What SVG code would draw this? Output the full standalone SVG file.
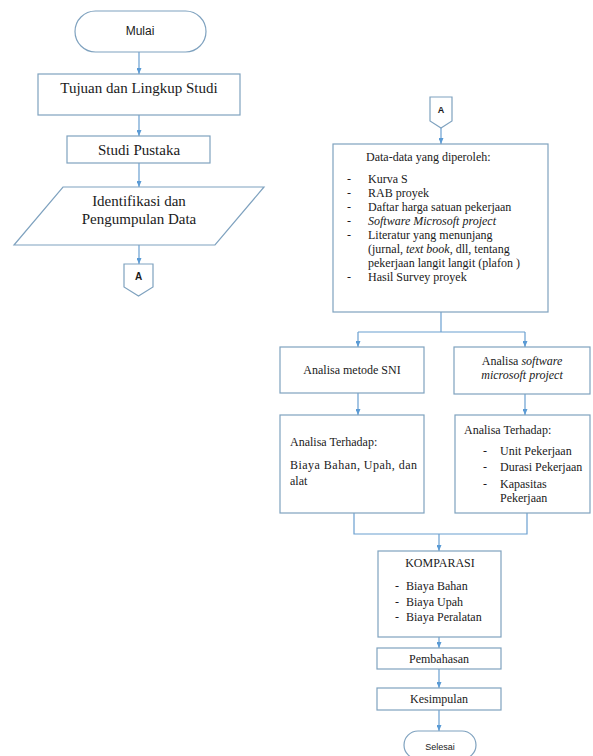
<svg xmlns="http://www.w3.org/2000/svg" width="593" height="756" viewBox="0 0 593 756">
<defs>
<marker id="ah" markerWidth="6" markerHeight="5" refX="6" refY="2.5" orient="auto" markerUnits="userSpaceOnUse">
<path d="M0,0 L6,2.5 L0,5 z" fill="#5b9bd5"/>
</marker>
</defs>
<style>
.box{fill:#fff;stroke:#7fa2bf;stroke-width:1.2}
.ln{fill:none;stroke:#6a9fd0;stroke-width:1.2}
.arr{marker-end:url(#ah)}
.sv{font-family:"Liberation Serif",serif;fill:#1a1a1a}
.ss{font-family:"Liberation Sans",sans-serif;fill:#1a1a1a}
.c{text-anchor:middle}
.i{font-style:italic}
</style>
<rect width="593" height="756" fill="#fff"/>

<g id="connectors">
<line class="ln arr" x1="139" y1="52" x2="139" y2="74"/>
<line class="ln arr" x1="139" y1="115" x2="139" y2="136"/>
<line class="ln arr" x1="139" y1="163" x2="139" y2="187"/>
<line class="ln arr" x1="139" y1="245" x2="139" y2="264"/>
<line class="ln arr" x1="441" y1="128" x2="441" y2="144"/>
<polyline class="ln" points="441,312 441,332"/>
<polyline class="ln" points="358,332 525,332"/>
<line class="ln arr" x1="358" y1="332" x2="358" y2="347"/>
<line class="ln arr" x1="525" y1="332" x2="525" y2="347"/>
<line class="ln arr" x1="358" y1="393" x2="358" y2="415"/>
<line class="ln arr" x1="525" y1="394" x2="525" y2="415"/>
<polyline class="ln" points="354,513 354,534 527,534 527,513"/>
<line class="ln arr" x1="439" y1="534" x2="439" y2="551"/>
<line class="ln arr" x1="439" y1="637" x2="439" y2="648"/>
<line class="ln arr" x1="439" y1="669" x2="439" y2="688"/>
<line class="ln arr" x1="439" y1="710" x2="439" y2="731"/>
</g>

<g id="mulai">
<rect class="box" x="75" y="11" width="131" height="41" rx="20.5"/>
<text class="ss c" x="140" y="35" font-size="12">Mulai</text>
</g>
<g id="tujuan">
<rect class="box" x="38" y="74" width="202" height="41"/>
<text class="sv c" x="139" y="93" font-size="15">Tujuan dan Lingkup Studi</text>
</g>
<g id="studi">
<rect class="box" x="67" y="136" width="143" height="27"/>
<text class="sv c" x="139" y="155" font-size="15">Studi Pustaka</text>
</g>
<g id="identifikasi">
<polygon class="box" points="63,187 264,187 215,245 14,245"/>
<text class="sv c" x="139" y="206" font-size="15">Identifikasi dan</text>
<text class="sv c" x="139" y="224" font-size="15">Pengumpulan Data</text>
</g>
<g id="a1">
<polygon class="box" points="124,264 153,264 153,287 138.5,296 124,287"/>
<text class="ss c" x="138.5" y="280" font-size="10" font-weight="bold">A</text>
</g>

<g id="a2">
<polygon class="box" points="430,97 452,97 452,121 441,128 430,121"/>
<text class="ss c" x="441" y="113" font-size="9" font-weight="bold">A</text>
</g>
<g id="data">
<rect class="box" x="333" y="144" width="215" height="168"/>
<text class="sv" x="366" y="161" font-size="12">Data-data yang diperoleh:</text>
<g class="sv" font-size="12">
<text x="347" y="183">-</text><text x="368" y="183">Kurva S</text>
<text x="347" y="197">-</text><text x="368" y="197">RAB proyek</text>
<text x="347" y="211">-</text><text x="368" y="211">Daftar harga satuan pekerjaan</text>
<text x="347" y="225">-</text><text x="368" y="225" class="i">Software Microsoft project</text>
<text x="347" y="239">-</text><text x="368" y="239">Literatur yang menunjang</text>
<text x="368" y="253">(jurnal, <tspan class="i">text book</tspan>, dll, tentang</text>
<text x="368" y="267">pekerjaan langit langit (plafon )</text>
<text x="347" y="281">-</text><text x="368" y="281">Hasil Survey proyek</text>
</g>
</g>
<g id="sni">
<rect class="box" x="280" y="347" width="144" height="46"/>
<text class="sv c" x="352" y="374" font-size="12">Analisa metode SNI</text>
</g>
<g id="software">
<rect class="box" x="454" y="347" width="136" height="47"/>
<text class="sv c" x="522" y="365" font-size="12">Analisa <tspan class="i">software</tspan></text>
<text class="sv c i" x="522" y="379" font-size="12">microsoft project</text>
</g>
<g id="terhadap1">
<rect class="box" x="280" y="415" width="144" height="98"/>
<text class="sv" x="290" y="446" font-size="12">Analisa Terhadap:</text>
<text class="sv" x="290" y="469" font-size="12" textLength="127" lengthAdjust="spacing">Biaya Bahan, Upah, dan</text>
<text class="sv" x="290" y="485" font-size="12">alat</text>
</g>
<g id="terhadap2">
<rect class="box" x="455" y="415" width="135" height="98"/>
<text class="sv" x="464" y="434" font-size="12">Analisa Terhadap:</text>
<g class="sv" font-size="12">
<text x="483" y="455">-</text><text x="500" y="455">Unit Pekerjaan</text>
<text x="483" y="471">-</text><text x="500" y="471">Durasi Pekerjaan</text>
<text x="483" y="488">-</text><text x="500" y="488">Kapasitas</text>
<text x="500" y="502">Pekerjaan</text>
</g>
</g>
<g id="komparasi">
<rect class="box" x="378" y="551" width="123" height="86"/>
<text class="sv c" x="440" y="567" font-size="12">KOMPARASI</text>
<g class="sv" font-size="12">
<text x="395" y="590">-</text><text x="406" y="590">Biaya Bahan</text>
<text x="395" y="606">-</text><text x="406" y="606">Biaya Upah</text>
<text x="395" y="621">-</text><text x="406" y="621">Biaya Peralatan</text>
</g>
</g>
<g id="pembahasan">
<rect class="box" x="377" y="648" width="124" height="21"/>
<text class="sv c" x="439" y="663" font-size="12">Pembahasan</text>
</g>
<g id="kesimpulan">
<rect class="box" x="377" y="688" width="124" height="22"/>
<text class="sv c" x="439" y="703" font-size="12">Kesimpulan</text>
</g>
<g id="selesai">
<rect class="box" x="404" y="731" width="72" height="28" rx="14"/>
<text class="ss c" x="440" y="750" font-size="9">Selesai</text>
</g>
</svg>
